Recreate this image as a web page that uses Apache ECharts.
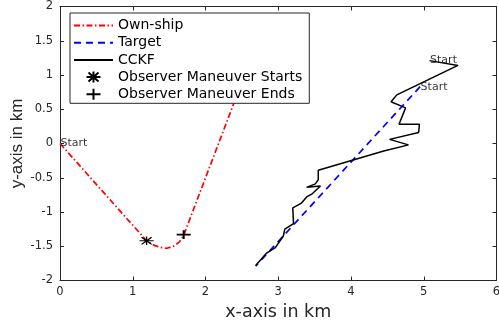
<!DOCTYPE html>
<html>
<head>
<meta charset="utf-8">
<script src="https://cdn.jsdelivr.net/npm/echarts@6/dist/echarts.min.js"></script>
<style>
  html, body { margin: 0; padding: 0; background: #fff; }
  #chart { width: 499px; height: 328px; }
</style>
</head>
<body>
<div id="chart"></div>
<script>
// track data, km
var ownShip = [[0, 0], [1.19, -1.42], [1.30, -1.49], [1.40, -1.52], [1.47, -1.53], [1.56, -1.50],
  [1.64, -1.44], [1.70, -1.34], [2.38, 0.56], [2.75, 1.6]];
var target = [[4.95, 0.83], [2.69, -1.79]];
var cckf = [[5.08, 1.21], [5.47, 1.14], [4.63, 0.71], [4.55, 0.61], [4.75, 0.52], [4.66, 0.28],
  [4.94, 0.28], [4.93, 0.16], [4.53, 0.06], [4.79, -0.02], [4.45, -0.11], [3.55, -0.39],
  [3.55, -0.53], [3.51, -0.59], [3.39, -0.64], [3.58, -0.62], [3.46, -0.74], [3.39, -0.78],
  [3.32, -0.87], [3.20, -0.94], [3.21, -1.17], [3.09, -1.25], [3.07, -1.35], [2.96, -1.52],
  [2.84, -1.60], [2.69, -1.78]];
var maneuverStart = [[1.19, -1.42]];
var maneuverEnd = [[1.70, -1.33]];
var startPoints = [[0, 0], [5.08, 1.21], [4.95, 0.83]];
var lineNames = ['Own-ship', 'Target', 'CCKF'];
var markerNames = ['Observer Maneuver Starts', 'Observer Maneuver Ends'];

var axisColor = '#262626';
var font = 'DejaVu Sans';

var chart = echarts.init(document.getElementById('chart'));

function boxAxis(pos, min, max, interval) {
  return {
    type: 'value', position: pos, min: min, max: max, interval: interval,
    axisLine: { show: true, onZero: false, lineStyle: { color: axisColor, width: 1 } },
    axisTick: { show: true, inside: true, length: 4, lineStyle: { color: axisColor } },
    axisLabel: { show: false },
    splitLine: { show: false }
  };
}

var xBottom = boxAxis('bottom', 0, 6, 1);
xBottom.axisLabel = { show: true, color: axisColor, fontFamily: font, fontSize: 11.5, margin: 6 };
xBottom.name = 'x-axis in km';
xBottom.nameLocation = 'middle';
xBottom.nameGap = 23;
xBottom.nameMoveOverlap = false;
xBottom.nameTextStyle = { color: axisColor, fontFamily: font, fontSize: 17.5 };

var yLeft = boxAxis('left', -2, 2, 0.5);
yLeft.axisLabel = { show: true, color: axisColor, fontFamily: font, fontSize: 11.5, margin: 7 };
yLeft.name = 'y-axis in km';
yLeft.nameLocation = 'middle';
yLeft.nameGap = 34;
yLeft.nameMoveOverlap = false;
yLeft.nameTextStyle = { color: axisColor, fontFamily: 'Liberation Sans', fontSize: 17 };

// line entries in the legend: show the line only, no symbol
var legendData = lineNames.map(function (n) {
  return { name: n, itemStyle: { color: 'rgba(0,0,0,0)', borderWidth: 0, opacity: 0 } };
}).concat(markerNames);

var option = {
  animation: false,
  backgroundColor: '#fff',
  grid: { left: 60, top: 6.5, width: 436.5, height: 274, containLabel: false, outerBoundsMode: 'none' },
  xAxis: [xBottom, boxAxis('top', 0, 6, 1)],
  yAxis: [yLeft, boxAxis('right', -2, 2, 0.5)],
  legend: {
    data: legendData,
    orient: 'vertical',
    left: 70, top: 13,
    padding: [5.5, 7, 2, 3],
    itemWidth: 39, itemHeight: 11, itemGap: 3.2, itemTextGap: 3,
    backgroundColor: '#fff',
    borderColor: axisColor, borderWidth: 1,
    textStyle: { color: '#000', fontFamily: font, fontSize: 14, lineHeight: 14 },
    selectedMode: false
  },
  series: [
    {
      name: 'Own-ship', type: 'line', data: ownShip, symbol: 'none', z: 2,
      lineStyle: { color: '#ff0000', width: 1.7, type: [6, 2.5, 1.5, 2.5] },
      itemStyle: { color: '#ff0000' }
    },
    {
      name: 'Target', type: 'line', data: target, symbol: 'none', z: 2,
      lineStyle: { color: '#0000ff', width: 1.7, type: [7, 5] },
      itemStyle: { color: '#0000ff' }
    },
    {
      name: 'CCKF', type: 'line', data: cckf, symbol: 'none', z: 3,
      lineStyle: { color: '#000', width: 1.5, type: 'solid' },
      itemStyle: { color: '#000' }
    },
    {
      name: 'Observer Maneuver Starts', type: 'scatter', data: maneuverStart, z: 4,
      symbol: 'path://M0,5.5 L14,5.5 M7,0 L7,11 M2,1 L12,10 M12,1 L2,10',
      symbolSize: [14, 11], symbolKeepAspect: true,
      itemStyle: { color: 'rgba(0,0,0,0)', borderColor: '#000', borderWidth: 1.2, opacity: 1 },
      emphasis: { disabled: true }
    },
    {
      name: 'Observer Maneuver Ends', type: 'scatter', data: maneuverEnd, z: 4,
      symbol: 'path://M0,5.5 L14,5.5 M7,0 L7,11',
      symbolSize: [14, 11], symbolKeepAspect: true,
      itemStyle: { color: 'rgba(0,0,0,0)', borderColor: '#000', borderWidth: 1.8, opacity: 1 },
      emphasis: { disabled: true }
    },
    {
      name: 'start labels', type: 'scatter', data: startPoints, z: 5,
      symbolSize: 1, itemStyle: { color: 'rgba(0,0,0,0)' },
      label: { show: true, formatter: 'Start', position: 'right', distance: 0,
        color: '#000', fontFamily: font, fontSize: 11 },
      emphasis: { disabled: true }
    }
  ]
};
chart.setOption(option);
</script>
</body>
</html>
